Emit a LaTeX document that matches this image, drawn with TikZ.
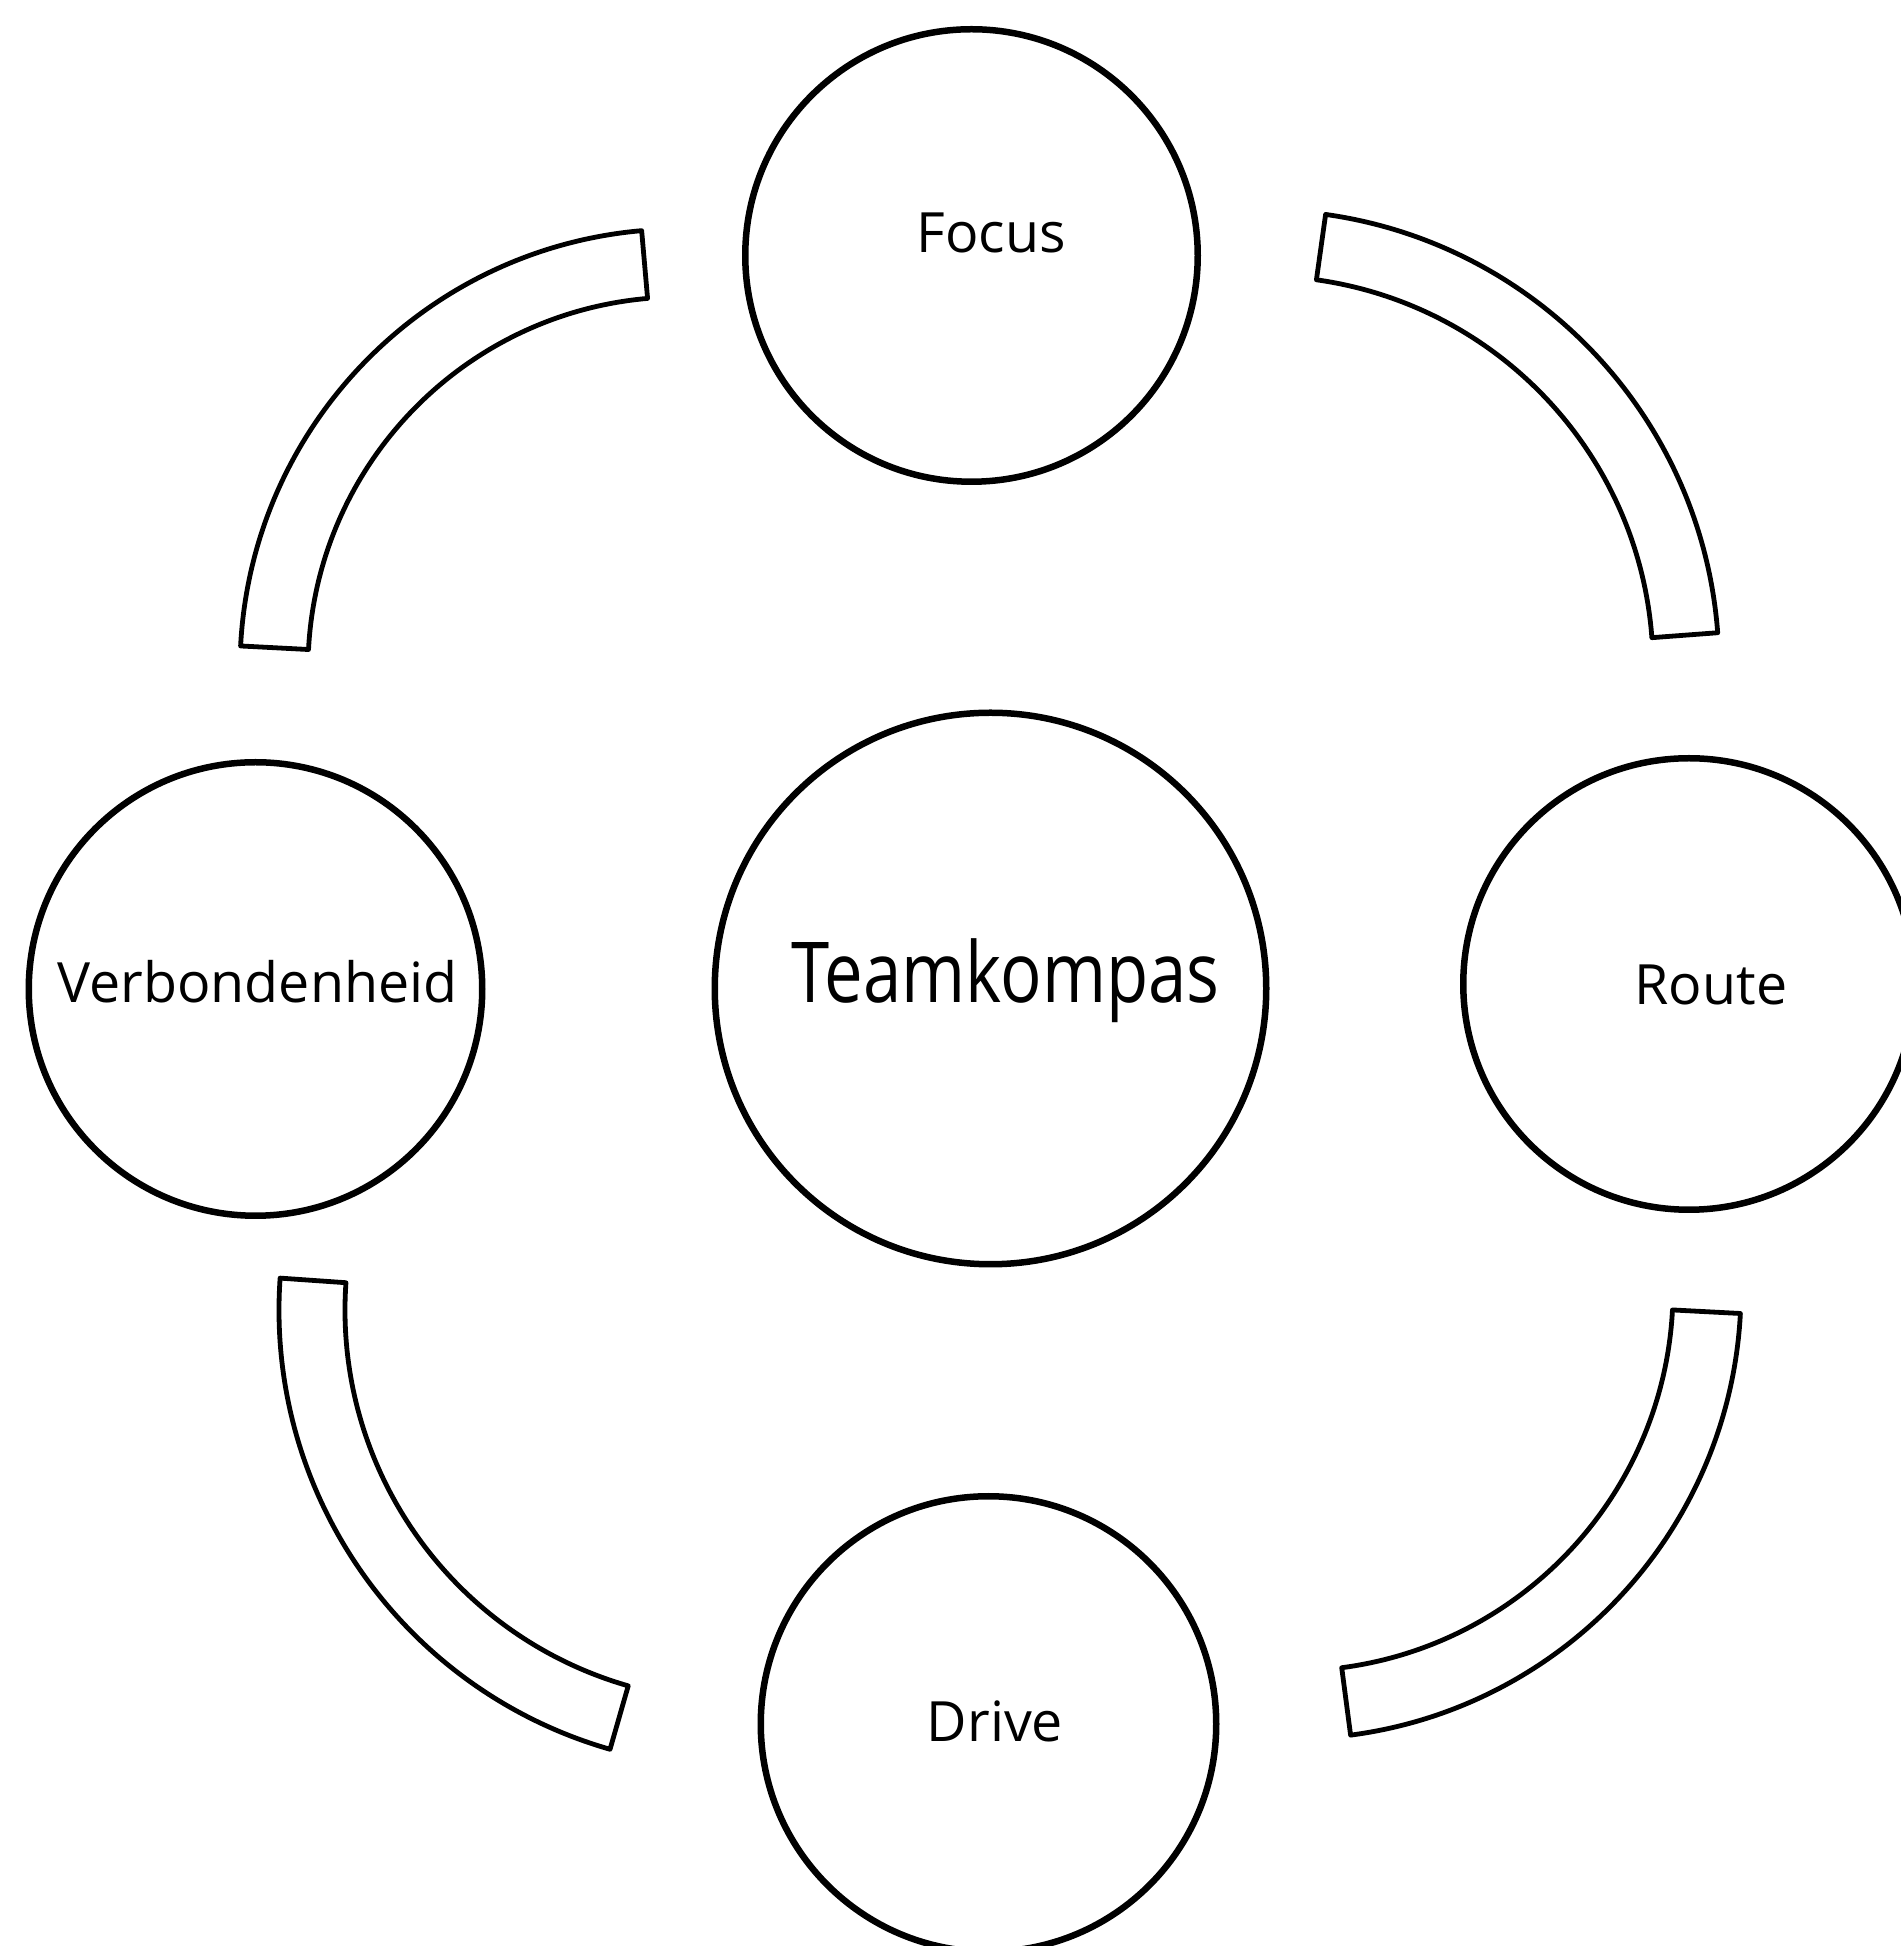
\documentclass[tikz,border=0pt]{standalone}
\usepackage{fontspec}
\setmainfont{Open Sans}
\usepackage{graphicx}
\usepackage{tikz}
\usetikzlibrary{calc}

\begin{document}
\begin{tikzpicture}[x=0.1mm,y=0.1mm,
        ring/.style={circle,draw=black,line width=0.65mm,inner sep=0pt},
        band/.style={draw=black,line width=0.48mm,line join=round},
        lbl/.style={anchor=base,inner sep=0pt,font=\fontsize{15.8}{19}\selectfont}]
        \useasboundingbox (0,0) rectangle (1901,1946);

        % 中心圆
        \node[ring,minimum size=55.15mm] (team) at (990.5,957.5) {};
        \node[lbl,font=\fontsize{19.6}{24}\selectfont] (teamtxt) at (1005.5,943) {\scalebox{1}[1.22]{Teamkompas}};

        % 四个外圆
        \node[ring,minimum size=45.25mm] (focus) at (971.5,1690.5) {};
        \node[ring,minimum size=45.35mm] (verb) at (255.5,957) {};
        \node[ring,minimum size=45.15mm] (route) at (1689,962) {};
        \node[ring,minimum size=45.55mm] (drive) at (988.5,222) {};

        % 标签
        \node[lbl] (focustxt) at (991,1693) {Focus};
        \node[lbl] (verbtxt) at (257.5,943) {Verbondenheid};
        \node[lbl] (routetxt) at (1711,941) {Route};
        \node[lbl] (drivetxt) at (995,204) {Drive};

        % 弧带
        \coordinate (tl) at (680,1277);
        \coordinate (tr) at (1262,1279);
        \coordinate (br) at (1292,656);
        \coordinate (bl) at (736,636);

        \draw[band] ($(tl)+(95:440)$) arc[start angle=95,end angle=177,radius=440]
            -- ($(tl)+(177:372)$) arc[start angle=177,end angle=95,radius=372] -- cycle;
        \draw[band] ($(tr)+(82:457)$) arc[start angle=82,end angle=4.3,radius=457]
            -- ($(tr)+(4.3:391)$) arc[start angle=4.3,end angle=82,radius=391] -- cycle;
        \draw[band] ($(br)+(-3:449)$) arc[start angle=-3,end angle=-82.5,radius=449]
            -- ($(br)+(-82.5:381)$) arc[start angle=-82.5,end angle=-3,radius=381] -- cycle;
        \draw[band] ($(bl)+(176:457)$) arc[start angle=176,end angle=254,radius=457]
            -- ($(bl)+(254:391)$) arc[start angle=254,end angle=176,radius=391] -- cycle;
    \end{tikzpicture}
\end{document}
